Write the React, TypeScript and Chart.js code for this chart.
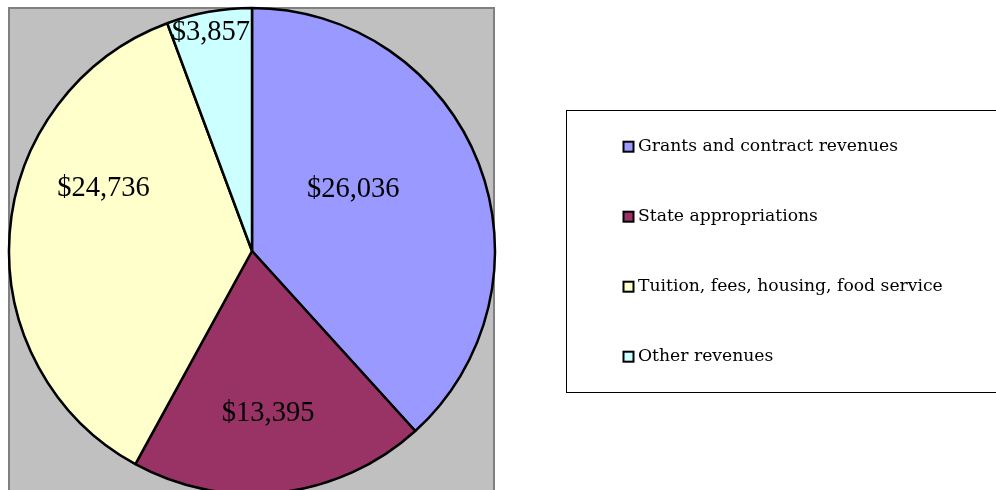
import React, { useEffect, useRef } from "react";
import { Chart, registerables } from "chart.js";

Chart.register(...registerables);

const categories = [
  "Grants and contract revenues",
  "State appropriations",
  "Tuition, fees, housing, food service",
  "Other revenues",
];
const revenues = [26036, 13395, 24736, 3857];
const sliceColors = ["#9999FF", "#993366", "#FFFFCC", "#CCFFFF"];

// label placement tweaks (angle shift in degrees, radius fraction)
const labelAngleShift = [-10.6, 1.1, 19.1, -0.4];
const labelRadiusFrac = [0.49, 0.67, 0.665, 0.92];

const fmt = (v: number) => "$" + v.toLocaleString("en-US");

const plotAreaPlugin = {
  id: "plotArea",
  beforeDraw(chart: any) {
    const ctx = chart.ctx;
    ctx.save();
    ctx.fillStyle = "#C0C0C0";
    ctx.fillRect(9, 8, 485, 490);
    ctx.strokeStyle = "#808080";
    ctx.lineWidth = 2;
    ctx.strokeRect(9, 8, 485, 490);
    ctx.restore();
  },
};

const labelsPlugin = {
  id: "sliceLabels",
  afterDatasetsDraw(chart: any) {
    const ctx = chart.ctx;
    const meta = chart.getDatasetMeta(0);
    ctx.save();
    ctx.font = "28.5px 'Liberation Serif'";
    ctx.fillStyle = "#000";
    ctx.textAlign = "center";
    ctx.textBaseline = "middle";
    meta.data.forEach((arc: any, i: number) => {
      const { x, y, startAngle, endAngle, outerRadius } = arc.getProps(
        ["x", "y", "startAngle", "endAngle", "outerRadius"],
        true
      );
      const mid = (startAngle + endAngle) / 2 + (labelAngleShift[i] * Math.PI) / 180;
      const r = outerRadius * labelRadiusFrac[i];
      ctx.fillText(fmt(revenues[i]), x + r * Math.cos(mid), y + r * Math.sin(mid) + 1);
    });
    ctx.restore();
  },
};

const legendPlugin = {
  id: "boxLegend",
  afterDraw(chart: any) {
    const ctx = chart.ctx;
    ctx.save();
    ctx.strokeStyle = "#000";
    ctx.lineWidth = 1;
    ctx.strokeRect(566.5, 110.5, 440, 282);
    ctx.font = "17.2px 'DejaVu Serif'";
    ctx.textBaseline = "alphabetic";
    ctx.textAlign = "left";
    categories.forEach((c, i) => {
      const cy = 146.7 + i * 70;
      ctx.fillStyle = sliceColors[i];
      ctx.fillRect(623.5, cy - 5, 10, 10);
      ctx.strokeStyle = "#000";
      ctx.lineWidth = 2;
      ctx.strokeRect(623.5, cy - 5, 10, 10);
      ctx.fillStyle = "#000";
      ctx.fillText(c, 638, cy + 4.5);
    });
    ctx.restore();
  },
};

export default function App() {
  const ref = useRef<HTMLCanvasElement>(null);
  useEffect(() => {
    if (!ref.current) return;
    const chart = new Chart(ref.current, {
      type: "pie",
      data: {
        labels: categories,
        datasets: [
          {
            data: revenues,
            backgroundColor: sliceColors,
            borderColor: "#000",
            borderWidth: 2.5,
            radius: 243,
          } as any,
        ],
      },
      options: {
        animation: false,
        responsive: false,
        layout: { padding: { left: 0, right: 492, top: 12, bottom: 0 } },
        plugins: {
          legend: { display: false },
          tooltip: { enabled: false },
        },
      },
      plugins: [plotAreaPlugin, labelsPlugin, legendPlugin],
    });
    return () => chart.destroy();
  }, []);
  return (
    <div style={{ position: "absolute", left: 0, top: 0, width: 996, height: 490, background: "#fff" }}>
      <canvas ref={ref} width={996} height={490} style={{ width: 996, height: 490 }} />
    </div>
  );
}
